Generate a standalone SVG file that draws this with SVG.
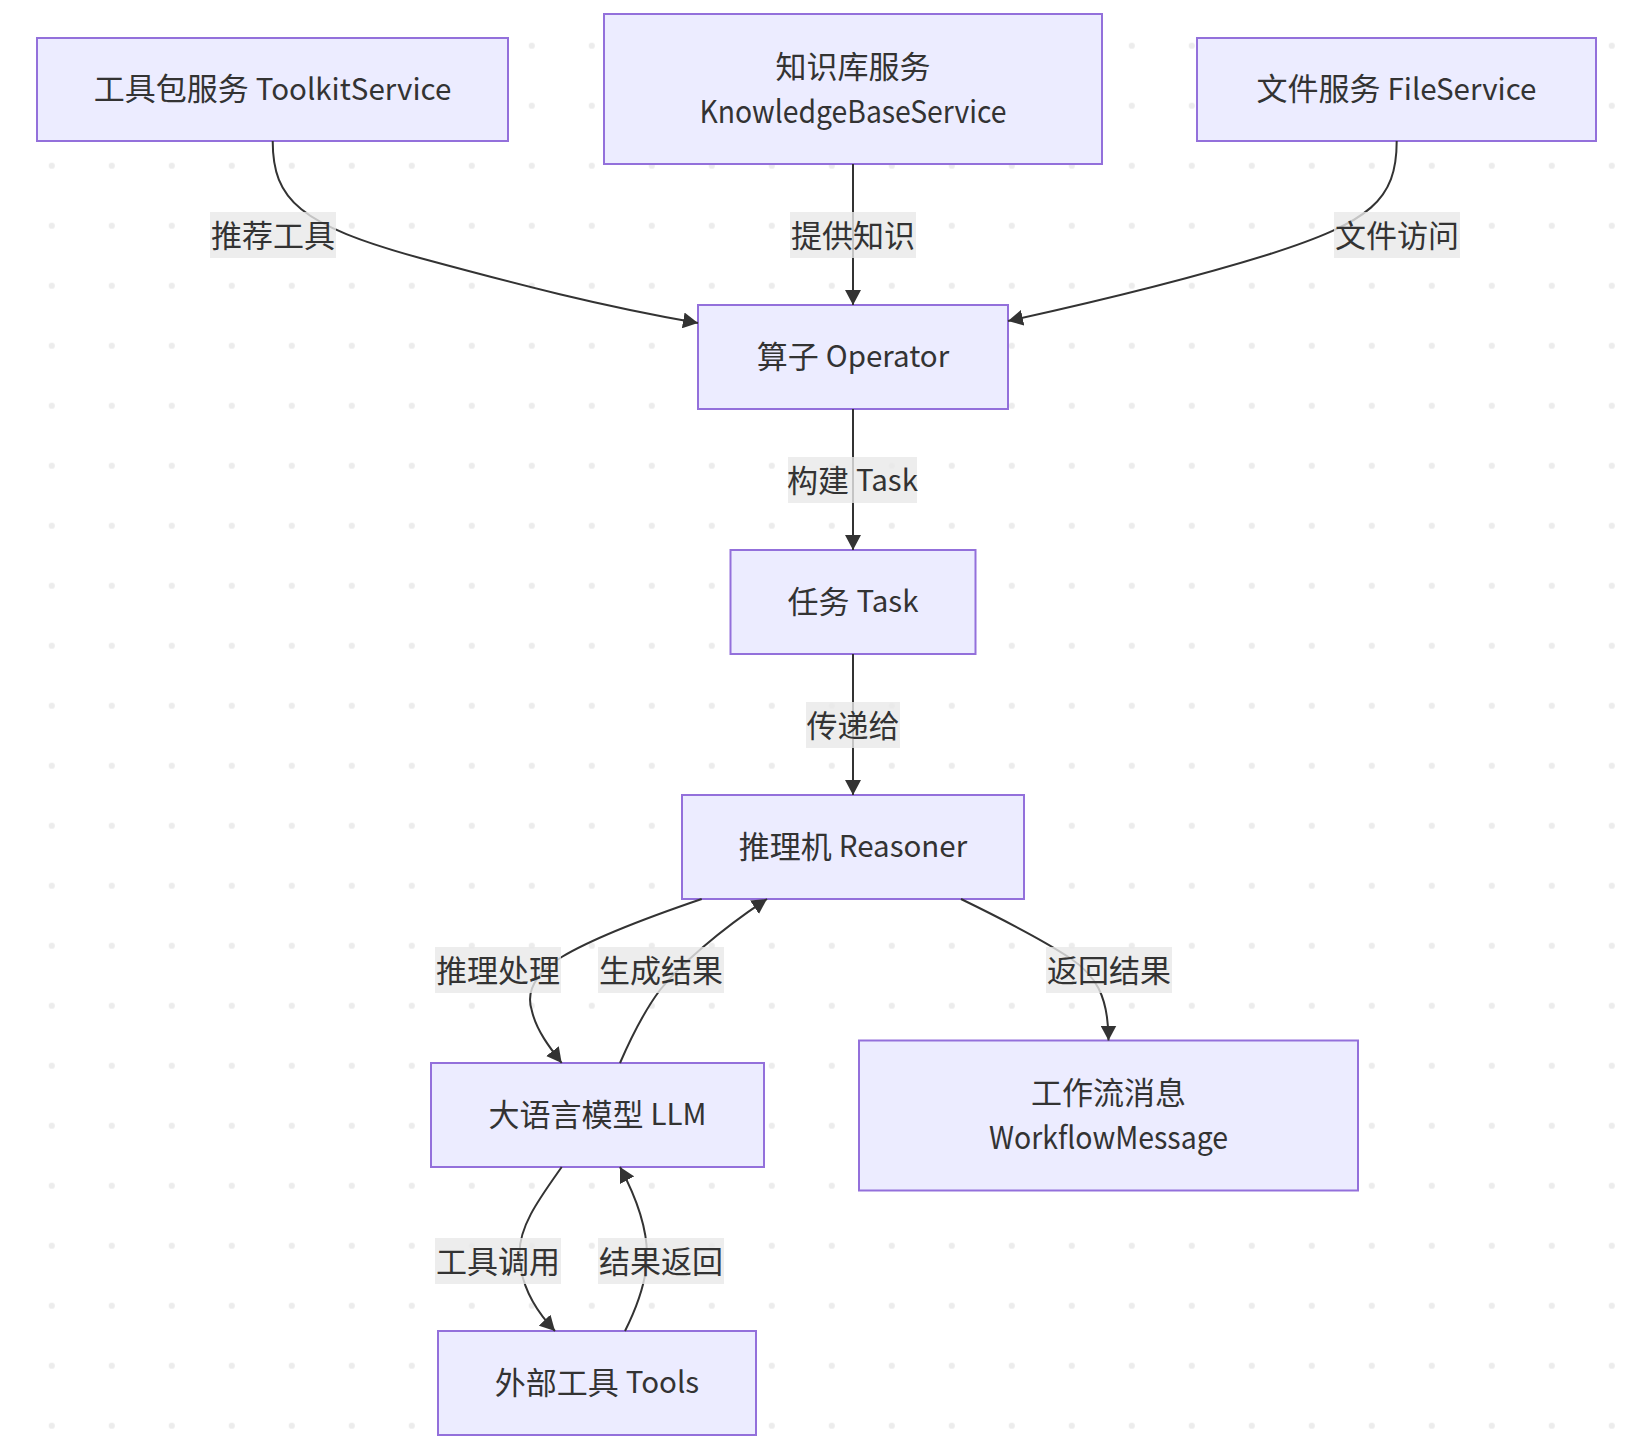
<svg xmlns="http://www.w3.org/2000/svg" width="1642" height="1452" viewBox="0 0 1642 1452">
  <defs>
    <pattern id="dots" patternUnits="userSpaceOnUse" x="21.8" y="15.7" width="60" height="60">
      <circle cx="30" cy="30" r="3.1" fill="#ececec"/>
    </pattern>
    <marker id="arrow" markerUnits="userSpaceOnUse" viewBox="0 0 15 16" markerWidth="15" markerHeight="16" refX="15" refY="8" orient="auto">
      <path d="M0,0 L15,8 L0,16 z" fill="#333333"/>
    </marker>
    <style>
      .node rect { fill: #ECECFF; stroke: #9370DB; stroke-width: 2; }
      .node text { font-family: "Noto Sans CJK SC", "Liberation Sans", sans-serif; font-size: 31px; fill: #333333; text-anchor: middle; dominant-baseline: central; }
      .lat { font-size: 29.5px; }
      .edge { fill: none; stroke: #333333; stroke-width: 2; marker-end: url(#arrow); }
      .elabel rect { fill: rgba(232,232,232,0.8); }
      .elabel text { font-family: "Noto Sans CJK SC", "Liberation Sans", sans-serif; font-size: 31px; fill: #333333; text-anchor: middle; dominant-baseline: central; }
    </style>
  </defs>
  <rect x="0" y="0" width="1642" height="1452" fill="#ffffff"/>
  <rect x="0" y="0" width="1642" height="1452" fill="url(#dots)"/>

  <g id="nodes">
    <g id="ToolkitService" class="node">
      <rect x="37" y="38" width="471" height="103"/>
      <text x="272.5" y="86.5">工具包服务 <tspan class="lat">ToolkitService</tspan></text>
    </g>
    <g id="KnowledgeBaseService" class="node">
      <rect x="604" y="14" width="498" height="150"/>
      <text x="853" y="64">知识库服务</text>
      <text x="853" y="109" class="lat" textLength="307" lengthAdjust="spacingAndGlyphs">KnowledgeBaseService</text>
    </g>
    <g id="FileService" class="node">
      <rect x="1197" y="38" width="399" height="103"/>
      <text x="1396.5" y="86.5">文件服务 <tspan class="lat">FileService</tspan></text>
    </g>
    <g id="Operator" class="node">
      <rect x="698" y="305" width="310" height="104"/>
      <text x="853" y="354">算子 <tspan class="lat">Operator</tspan></text>
    </g>
    <g id="Task" class="node">
      <rect x="730.5" y="550" width="245" height="104"/>
      <text x="853" y="599">任务 <tspan class="lat">Task</tspan></text>
    </g>
    <g id="Reasoner" class="node">
      <rect x="682" y="795" width="342" height="104"/>
      <text x="853" y="844">推理机 <tspan class="lat">Reasoner</tspan></text>
    </g>
    <g id="LLM" class="node">
      <rect x="431" y="1063" width="333" height="104"/>
      <text x="597.5" y="1112">大语言模型 <tspan class="lat">LLM</tspan></text>
    </g>
    <g id="WorkflowMessage" class="node">
      <rect x="859" y="1040.5" width="499" height="150"/>
      <text x="1108.5" y="1090">工作流消息</text>
      <text x="1108.5" y="1135" class="lat" textLength="239" lengthAdjust="spacingAndGlyphs">WorkflowMessage</text>
    </g>
    <g id="Tools" class="node">
      <rect x="438" y="1331" width="318" height="104"/>
      <text x="597" y="1380">外部工具 <tspan class="lat">Tools</tspan></text>
    </g>
  </g>

  <g id="connectors">
    <path class="edge" d="M272.7,141 C272.7,200 300,225 420,258 C520,285 600,306 698,323"/>
    <path class="edge" d="M853,164 L853,305"/>
    <path class="edge" d="M1396.7,141 C1396.7,200 1370,222 1270,254 C1180,282 1090,303 1008,321"/>
    <path class="edge" d="M853,409 L853,550"/>
    <path class="edge" d="M853,654 L853,795"/>
    <path class="edge" d="M701.7,899 C640,920 590,940 561.7,957 C530,977 527,995 531.7,1010 C536,1030 550,1048 561.7,1063"/>
    <path class="edge" d="M620,1063 C630,1040 645,1010 660,990 C680,965 720,930 767,899"/>
    <path class="edge" d="M961,899 C1000,918 1040,938 1070,958 C1095,975 1108.5,995 1108.5,1040.5"/>
    <path class="edge" d="M561.7,1167 C540,1198 519.5,1225 519.5,1253 C519.5,1285 535,1310 555,1331"/>
    <path class="edge" d="M625,1331 C638,1305 647,1280 647,1255 C647,1225 635,1195 620,1167"/>
  </g>

  <g id="edge-labels">
    <g class="elabel"><rect x="210" y="212" width="126" height="46"/><text x="273" y="233">推荐工具</text></g>
    <g class="elabel"><rect x="790" y="212" width="126" height="46"/><text x="853" y="233">提供知识</text></g>
    <g class="elabel"><rect x="1334" y="212" width="126" height="46"/><text x="1397" y="233">文件访问</text></g>
    <g class="elabel"><rect x="788" y="457" width="129" height="46"/><text x="852.5" y="478">构建 <tspan class="lat">Task</tspan></text></g>
    <g class="elabel"><rect x="806" y="702" width="94" height="46"/><text x="853" y="723">传递给</text></g>
    <g class="elabel"><rect x="435" y="947" width="126" height="46"/><text x="498" y="968">推理处理</text></g>
    <g class="elabel"><rect x="598" y="947" width="126" height="46"/><text x="661" y="968">生成结果</text></g>
    <g class="elabel"><rect x="1046" y="947" width="126" height="46"/><text x="1109" y="968">返回结果</text></g>
    <g class="elabel"><rect x="435" y="1238" width="126" height="46"/><text x="498" y="1259">工具调用</text></g>
    <g class="elabel"><rect x="598" y="1238" width="126" height="46"/><text x="661" y="1259">结果返回</text></g>
  </g>
</svg>
